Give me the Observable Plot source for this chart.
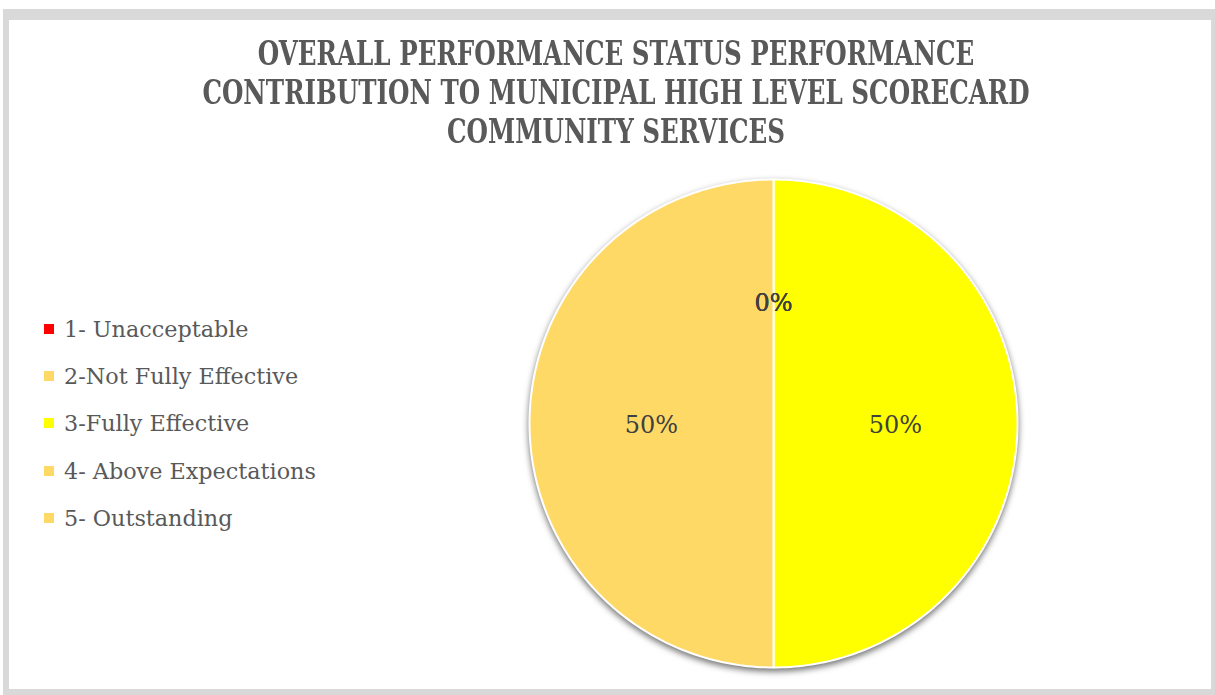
<!DOCTYPE html>
<html><head><meta charset="utf-8">
<script src="https://cdn.jsdelivr.net/npm/d3@7"></script>
<script src="https://cdn.jsdelivr.net/npm/@observablehq/plot@0.6"></script>
<style>
html,body{margin:0;padding:0;background:#fff;width:1215px;height:695px;overflow:hidden;}
#frame{position:absolute;left:3px;top:9px;width:1212px;height:686px;background:#d9d9d9;}
#inner{position:absolute;left:9px;top:20px;width:1202px;height:669px;background:#fff;}
#title{position:absolute;left:0;top:34px;width:1232px;text-align:center;font-family:"DejaVu Serif";font-weight:bold;font-size:33px;line-height:39px;color:#595959;transform:scaleX(0.745);transform-origin:616px 0;}
#legend{position:absolute;left:44px;top:305px;font-family:"DejaVu Serif";font-size:22.3px;color:#595959;}
.item{height:47.4px;display:flex;align-items:center;}
.sw{width:10px;height:10px;margin-right:10px;}
#pie{position:absolute;left:513px;top:163px;}
#pie g[aria-label="line"]{filter:drop-shadow(0px 3px 3px rgba(0,0,0,0.55));}
</style></head>
<body>
<div id="frame"></div><div id="inner"></div>
<div id="title"></div>
<div id="legend"></div>
<div id="pie"></div>
<script>
const titleLines = ["OVERALL PERFORMANCE STATUS PERFORMANCE", "CONTRIBUTION TO MUNICIPAL HIGH LEVEL SCORECARD", "COMMUNITY SERVICES"];
const categories = ["1- Unacceptable", "2-Not Fully Effective", "3-Fully Effective", "4- Above Expectations", "5- Outstanding"];
const values = [0, 0, 50, 50, 0];
const colors = ["#ff0000", "#ffd966", "#ffff00", "#ffd966", "#ffd966"];

document.getElementById("title").innerHTML = titleLines.join("<br>");
const leg = document.getElementById("legend");
categories.forEach((c, i) => {
  const d = document.createElement("div"); d.className = "item";
  d.innerHTML = `<span class="sw" style="background:${colors[i]}"></span><span>${c}</span>`;
  leg.appendChild(d);
});

const total = d3.sum(values);
const arcs = d3.pie().sort(null).value(d => d)(values);
const slicePts = [];
const labels = [];
arcs.forEach((a, i) => {
  const cat = categories[i];
  if (a.endAngle > a.startAngle) {
    slicePts.push({cat, x: 0, y: 0});
    const n = 180;
    for (let k = 0; k <= n; k++) {
      const t = a.startAngle + (a.endAngle - a.startAngle) * k / n;
      slicePts.push({cat, x: Math.sin(t), y: Math.cos(t)});
    }
    slicePts.push({cat, x: 0, y: 0});
  }
  const m = (a.startAngle + a.endAngle) / 2;
  labels.push({cat, x: 0.5 * Math.sin(m), y: 0.5 * Math.cos(m), text: Math.round(values[i] / total * 100) + "%"});
});

const ext = 260 / 244;
const chart = Plot.plot({
  width: 520, height: 520,
  marginTop: 0, marginBottom: 0, marginLeft: 0, marginRight: 0,
  x: {domain: [-ext, ext], axis: null},
  y: {domain: [-ext, ext], axis: null},
  color: {domain: categories, range: colors},
  style: {background: "transparent", overflow: "visible"},
  marks: [
    Plot.line(slicePts, {x: "x", y: "y", z: "cat", fill: "cat", stroke: "#ffffff", strokeWidth: 2, curve: "linear"}),
    Plot.text(labels, {x: "x", y: "y", dy: 2, text: "text", fill: "#404040", fontSize: 24, fontFamily: "DejaVu Serif"})
  ]
});
document.getElementById("pie").appendChild(chart);
</script>
</body></html>
